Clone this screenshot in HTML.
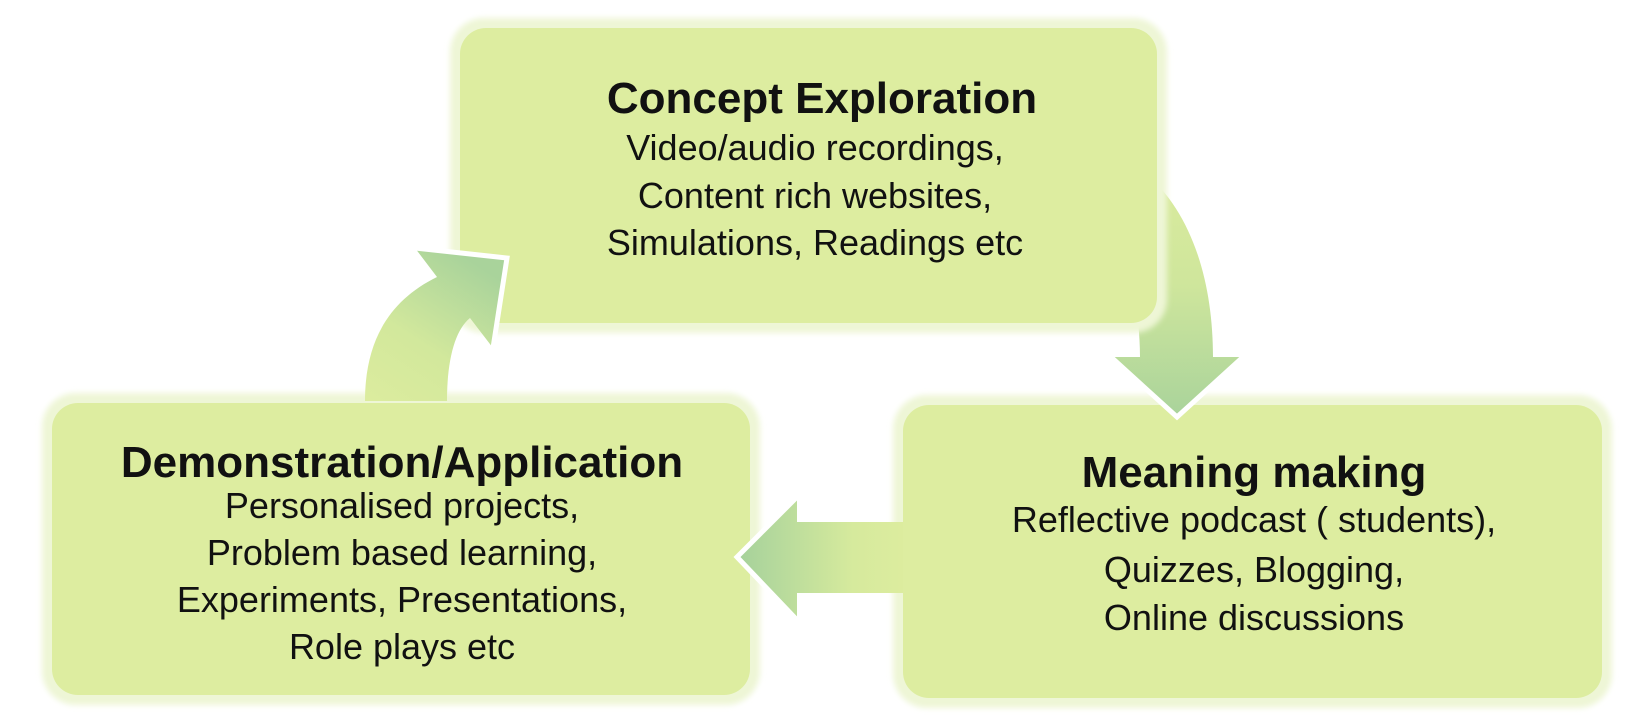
<!DOCTYPE html>
<html><head><meta charset="utf-8"><style>
html,body{margin:0;padding:0;background:#fff;}
svg{display:block;}
text{font-family:"Liberation Sans",Arial,sans-serif;fill:#111;}
.t{font-weight:bold;font-size:44px;}
.b{font-size:36px;}
</style></head><body>
<svg width="1642" height="726" viewBox="0 0 1642 726" xmlns="http://www.w3.org/2000/svg">
<defs>
<linearGradient id="gl" x1="0" y1="1" x2="0.6" y2="0">
<stop offset="0" stop-color="#dcec9e"/><stop offset="0.45" stop-color="#d2e89c"/><stop offset="1" stop-color="#a9d39b"/>
</linearGradient>
<linearGradient id="gr" x1="0" y1="0" x2="0" y2="1">
<stop offset="0" stop-color="#dcec9e"/><stop offset="0.5" stop-color="#cfe69c"/><stop offset="1" stop-color="#a9d39b"/>
</linearGradient>
<linearGradient id="gh" x1="1" y1="0" x2="0" y2="0">
<stop offset="0" stop-color="#dcec9e"/><stop offset="0.3" stop-color="#d6ea9d"/><stop offset="1" stop-color="#a5d19b"/>
</linearGradient>
<filter id="bl" x="-5%" y="-5%" width="110%" height="110%"><feGaussianBlur stdDeviation="3"/></filter>
</defs>
<!-- bottom boxes -->
<g filter="url(#bl)" fill="#eef6d6">
<rect x="42" y="393" width="718" height="312" rx="34"/>
<rect x="893" y="395" width="719" height="313" rx="34"/>
</g>
<g fill="#ddeda0">
<rect x="52" y="403" width="698" height="292" rx="26"/>
<rect x="903" y="405" width="699" height="293" rx="26"/>
</g>
<!-- right curved arrow (under top box) -->
<path d="M1110,150 C1185,185 1213,270 1213,357 L1243,357 L1177,417 L1111,357 L1140,357 C1140,290 1120,250 1090,235 Z" fill="url(#gr)"/>
<path d="M1111,357 L1177,417 L1243,357" fill="none" stroke="#fff" stroke-width="5"/>
<!-- top box -->
<rect x="450" y="18" width="717" height="315" rx="34" fill="#eef6d6" filter="url(#bl)"/>
<rect x="460" y="28" width="697" height="295" rx="26" fill="#ddeda0"/>
<!-- left curved arrow -->
<path d="M365,401 C365,340 390,300 437,277 L415,248 L507,258 L493,348 L470,318 C455,330 447,360 447,401 Z" fill="url(#gl)"/>
<path d="M415,248 L507,258 L493,348" fill="none" stroke="#fff" stroke-width="5"/>
<!-- horizontal arrow -->
<path d="M903,522 L797,522 L797,497 L737,557 L797,620 L797,593 L903,593 Z" fill="url(#gh)"/>
<path d="M797,497 L737,557 L797,620" fill="none" stroke="#fff" stroke-width="5"/>
<!-- text -->
<g text-anchor="middle">
<text class="t" x="822" y="113">Concept Exploration</text>
<text class="b" x="815" y="160">Video/audio recordings,</text>
<text class="b" x="815" y="208">Content rich websites,</text>
<text class="b" x="815" y="255">Simulations, Readings etc</text>

<text class="t" x="402" y="477">Demonstration/Application</text>
<text class="b" x="402" y="518">Personalised projects,</text>
<text class="b" x="402" y="565">Problem based learning,</text>
<text class="b" x="402" y="612">Experiments, Presentations,</text>
<text class="b" x="402" y="659">Role plays etc</text>

<text class="t" x="1254" y="487">Meaning making</text>
<text class="b" x="1254" y="532">Reflective podcast ( students),</text>
<text class="b" x="1254" y="582">Quizzes, Blogging,</text>
<text class="b" x="1254" y="630">Online discussions</text>
</g>
</svg>
</body></html>
